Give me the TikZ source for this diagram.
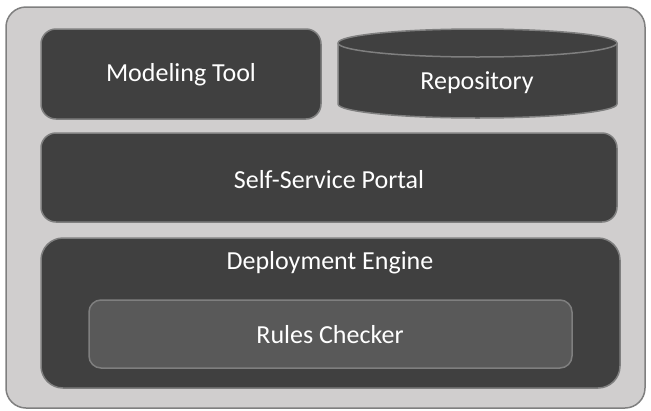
\documentclass[tikz,border=0pt]{standalone}
\usepackage{fontspec}
\setmainfont{Carlito}
\definecolor{outerfill}{HTML}{D0CECE}
\definecolor{edge}{HTML}{7F7F7F}
\definecolor{darkfill}{HTML}{404040}
\definecolor{midfill}{HTML}{595959}
\begin{document}
\begin{tikzpicture}[x=1pt,y=-1pt,
  frame/.style={draw=edge, line width=1.5pt, fill=outerfill, rounded corners=20pt},
  block/.style={draw=edge, line width=1.5pt, fill=darkfill, rounded corners=15pt},
  inner/.style={draw=edge, line width=1.5pt, fill=midfill, rounded corners=12pt},
  label/.style={text=white, font=\fontsize{26}{30}\selectfont, inner sep=0pt}]
\useasboundingbox (0,0) rectangle (651,410);
\draw[frame] (6,7) rectangle (645,408);
\draw[block] (41,29) rectangle (321,119);
\node[label] (mt) at (181,75) {Modeling Tool};
% cylinder
\draw[draw=edge, line width=1.5pt, fill=darkfill]
  (338,43) -- (338,104) arc[start angle=180, end angle=360, x radius=139.5, y radius=-14]
  -- (617,43) arc[start angle=0, end angle=180, x radius=139.5, y radius=-14] -- cycle;
\draw[draw=edge, line width=1.5pt] (338,43) arc[start angle=180, end angle=360, x radius=139.5, y radius=-14];
\node[label] (repo) at (477,83) {Repository};
\draw[block] (41,133) rectangle (617,222);
\node[label] (ssp) at (329,180) {Self-Service Portal};
\draw[block, rounded corners=22pt] (41,238) rectangle (620,388);
\node[label] (de) at (330,263) {Deployment Engine};
\draw[inner] (89,300) rectangle (572,368);
\node[label] (rc) at (330,335) {Rules Checker};
\end{tikzpicture}
\end{document}
